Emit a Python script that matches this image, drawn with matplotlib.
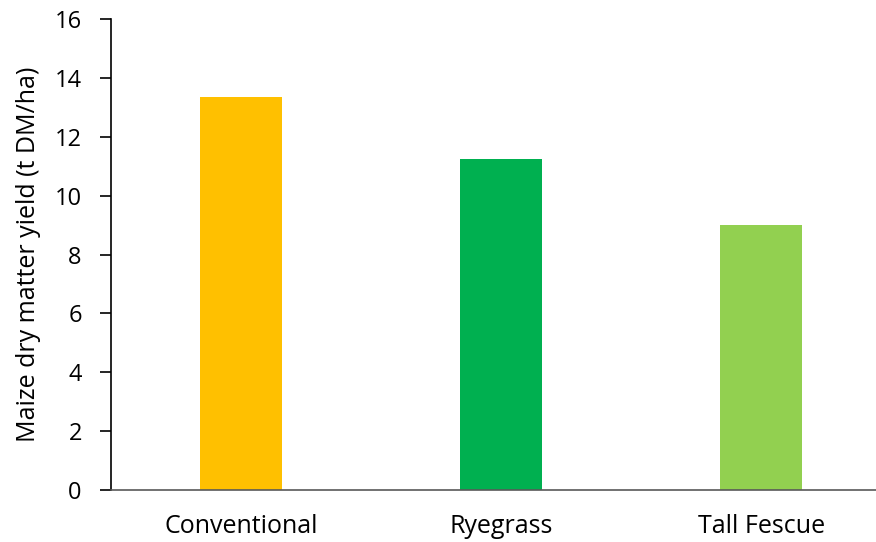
import matplotlib.pyplot as plt

categories = ['Conventional', 'Ryegrass', 'Tall Fescue']
yields = [13.35, 11.25, 9.0]
colors = ['#FFC000', '#00B050', '#92D050']
y_ticks = [0, 2, 4, 6, 8, 10, 12, 14, 16]

plt.rcParams['font.family'] = ['Open Sans', 'DejaVu Sans']

fig = plt.figure(figsize=(8.76, 5.42), dpi=100)
ax = fig.add_axes([111 / 876, 52 / 542, 765 / 876, 471 / 542])

x = range(len(categories))
ax.bar(x, yields, width=0.315, color=colors)

ax.set_xlim(-0.5, 2.442)
ax.set_ylim(0, 16)
ax.set_yticks(y_ticks)
ax.set_xticks(list(x))
ax.set_xticklabels(categories)

ax.spines['top'].set_visible(False)
ax.spines['right'].set_visible(False)
ax.spines['left'].set_color('#000000')
ax.spines['bottom'].set_color('#595959')
ax.spines['left'].set_linewidth(1.2)
ax.spines['bottom'].set_linewidth(1.2)

ax.tick_params(axis='y', length=8, width=1.2, pad=13, labelsize=17, colors='#000000')
ax.tick_params(axis='x', length=0, pad=17, labelsize=18, colors='#000000')

ax.set_ylabel('Maize dry matter yield (t DM/ha)', fontsize=18, labelpad=10)

fig.savefig('out.png', dpi=100)
